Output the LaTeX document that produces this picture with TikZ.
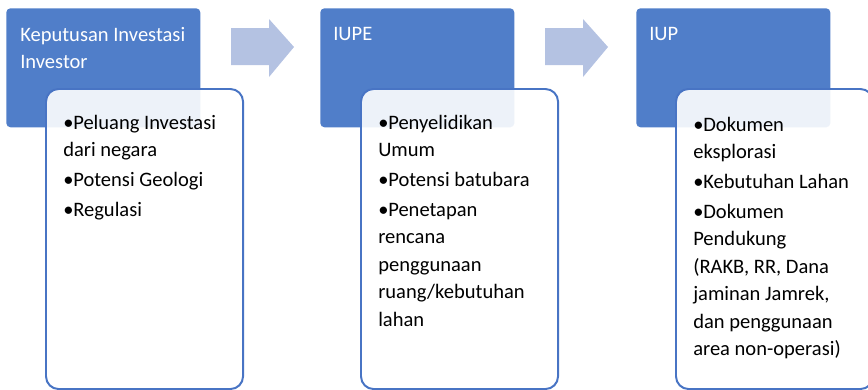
\documentclass[tikz,border=0pt]{standalone}
\usepackage{fontspec}
\setmainfont{Carlito}
\usepackage{tikz}
\usetikzlibrary{positioning, calc}
\definecolor{headblue}{RGB}{80, 126, 201}
\definecolor{edgeblue}{RGB}{72, 116, 196}
\definecolor{arrowblue}{RGB}{180, 194, 226}
\newcommand{\itm}{\par\spaceskip=0pt\xspaceskip=0pt\hangindent=0.25cm\hangafter=1\noindent\makebox[0.25cm][l]{\textbullet}}

\begin{document}
\begin{tikzpicture}[
  x=0.025cm, y=-0.025cm,
  headbox/.style={fill=headblue, rounded corners=3pt, minimum width=4.85cm, minimum height=2.975cm, anchor=north west, inner sep=0pt},
  headtext/.style={text=white, anchor=north west, inner sep=0pt, align=left, font=\fontsize{14.6pt}{19.3pt}\selectfont},
  listbox/.style={draw=edgeblue, line width=1.4pt, fill=white, fill opacity=0.9, rounded corners=9pt, minimum width=4.925cm, minimum height=7.5cm, anchor=north west, inner sep=0pt},
  listtext/.style={anchor=north west, inner sep=0pt, text width=4.5cm, align=left, font=\fontsize{14.6pt}{19.5pt}\selectfont\setlength{\parskip}{1.8pt}},
  blockarrow/.style={fill=arrowblue}
]
  \useasboundingbox (0,0) rectangle (868,389);

  \node[headbox] (h1) at (6, 8) {};
  \node[headbox] (h2) at (320, 8) {};
  \node[headbox] (h3) at (636, 8) {};

  \node[headtext] (ht1) at (20, 27) {Keputusan Investasi\\Investor};
  \node[headtext] (ht2) at (333, 27) {IUPE};
  \node[headtext] (ht3) at (649, 27) {IUP};

  \foreach \x in {231, 545}
    \fill[blockarrow] (\x, 28) -- (\x+38, 28) -- (\x+38, 19) -- (\x+63, 47)
      -- (\x+38, 77) -- (\x+38, 65) -- (\x, 65) -- cycle;

  \node[listbox] (b1) at (45, 88) {};
  \node[listbox] (b2) at (360, 88) {};
  \node[listbox] (b3) at (675, 88) {};

  \node[listtext] (l1) at (63, 99) {\itm Peluang Investasi\\dari negara\itm Potensi Geologi\itm Regulasi};
  \node[listtext] (l2) at (378, 99) {\itm Penyelidikan\\Umum\itm Potensi batubara\itm Penetapan\\rencana\\penggunaan\\ruang/kebutuhan\\lahan};
  \node[listtext] (l3) at (693, 101) {\itm Dokumen\\eksplorasi\itm Kebutuhan Lahan\itm Dokumen\\Pendukung\\(RAKB, RR, Dana\\jaminan Jamrek,\\dan penggunaan\\area non-operasi)};
\end{tikzpicture}
\end{document}
